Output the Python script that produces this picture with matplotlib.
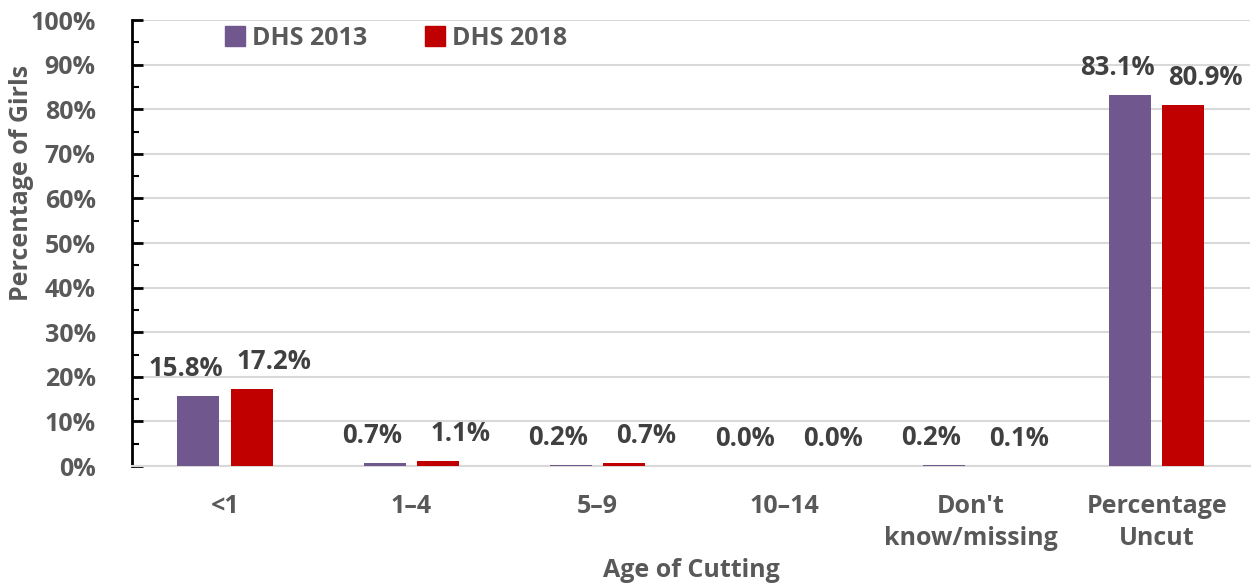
import numpy as np
import matplotlib
matplotlib.use("Agg")
import matplotlib.pyplot as plt
from matplotlib.ticker import MultipleLocator, PercentFormatter
from matplotlib.lines import Line2D

categories = ["<1", "1\u20134", "5\u20139", "10\u201314", "Don't\nknow/missing", "Percentage\nUncut"]
dhs_2013 = [15.8, 0.7, 0.2, 0.0, 0.2, 83.1]
dhs_2018 = [17.2, 1.1, 0.7, 0.0, 0.1, 80.9]
series_names = ["DHS 2013", "DHS 2018"]

purple = "#70588E"
red = "#C00000"
grey = "#595959"
dark = "#404040"

plt.rcParams["font.family"] = ["Open Sans", "DejaVu Sans"]
plt.rcParams["font.weight"] = "bold"
fs = 18

fig = plt.figure(figsize=(12.55, 5.85), dpi=100)
ax = fig.add_axes([0.105, 0.2034, 0.891, 0.7624])

x = np.arange(len(categories))
w = 0.225
off = 0.143
b1 = ax.bar(x - off, dhs_2013, w, color=purple, zorder=3)
b2 = ax.bar(x + off, dhs_2018, w, color=red, zorder=3)

# data labels, nudged outward a bit like the original
for bars, dx in [(b1, -9), (b2, 16)]:
    for r in bars:
        h = r.get_height()
        ax.annotate(f"{h:.1f}%", (r.get_x() + r.get_width() / 2, h),
                    xytext=(dx, 10), textcoords="offset points",
                    ha="center", va="bottom", fontsize=18.5, fontweight="bold", color=dark)

ax.set_xlim(-0.5, len(categories) - 0.5)
ax.set_ylim(0, 100)
ax.yaxis.set_major_locator(MultipleLocator(10))
ax.yaxis.set_minor_locator(MultipleLocator(5))
ax.yaxis.set_major_formatter(PercentFormatter(decimals=0))
ax.grid(axis="y", color="#D9D9D9", linewidth=1.5, zorder=0)

ax.set_xticks(x)
ax.set_xticklabels(categories, fontsize=fs, fontweight="bold", color=grey, linespacing=1.4)
ax.tick_params(axis="x", length=0, pad=20)
ax.tick_params(axis="y", which="major", direction="in", length=8, width=2, labelsize=fs,
               labelcolor=grey, pad=26)
ax.tick_params(axis="y", which="minor", direction="in", length=5, width=1.5)
for lab in ax.get_yticklabels():
    lab.set_fontweight("bold")

for s in ["top", "right"]:
    ax.spines[s].set_visible(False)
ax.spines["left"].set_linewidth(2)
ax.spines["left"].set_color("black")
ax.spines["bottom"].set_color("#D9D9D9")
ax.spines["bottom"].set_linewidth(1.5)

ax.set_xlabel("Age of Cutting", fontsize=fs, fontweight="bold", color=grey, labelpad=5)
ax.set_ylabel("Percentage of Girls", fontsize=fs, fontweight="bold", color=grey)
ax.yaxis.set_label_coords(-0.087, 0.635)

handles = [Line2D([], [], marker="s", linestyle="none", markersize=14, color=c) for c in (purple, red)]
leg = ax.legend(handles, series_names, loc="center left", bbox_to_anchor=(0.159, 0.935),
                bbox_transform=fig.transFigure, ncol=2, frameon=False, fontsize=fs,
                handletextpad=0.2, columnspacing=2.2, handlelength=1.0)
for t in leg.get_texts():
    t.set_color(grey)
    t.set_fontweight("bold")

fig.savefig("out.png", dpi=100)
